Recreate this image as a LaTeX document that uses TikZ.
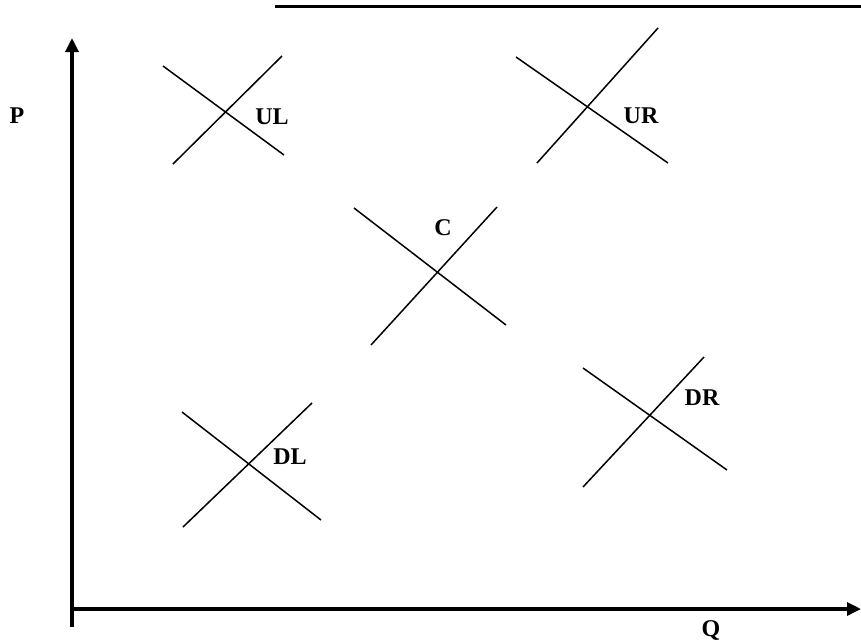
\documentclass[tikz,border=0pt]{standalone}
\usepackage{fontspec}
\setmainfont{Liberation Serif}
\usetikzlibrary{arrows.meta}
\begin{document}
\begin{tikzpicture}[x=1pt,y=-1pt,
  axis/.style={line width=3.3pt,-{Triangle[length=14pt,width=13pt]}},
  curve/.style={line width=1.5pt},
  lbl/.style={font=\fontsize{24}{24}\selectfont\bfseries,inner sep=0pt}]
\useasboundingbox (0,0) rectangle (861,641);
% top rule
\coordinate (t1) at (275,6);
\coordinate (t2) at (861,6);
\draw[line width=3pt] (t1) -- (t2);
% axes
\coordinate (o) at (72,627);
\coordinate (ytop) at (72,38);
\coordinate (x0) at (72,609);
\coordinate (xend) at (861,609);
\draw[axis] (o) -- (ytop);
\draw[axis] (x0) -- (xend);
\node[lbl] (P) at (17,116) {P};
\node[lbl] (Q) at (711,630) {Q};
% UL
\coordinate (ula) at (163,66);\coordinate (ulb) at (284,155);
\coordinate (ulc) at (173,164);\coordinate (uld) at (282,56);
\draw[curve] (ula) -- (ulb);
\draw[curve] (ulc) -- (uld);
\node[lbl] (UL) at (272,117) {UL};
% UR
\coordinate (ura) at (516,57);\coordinate (urb) at (668,163);
\coordinate (urc) at (537,163);\coordinate (urd) at (658,28);
\draw[curve] (ura) -- (urb);
\draw[curve] (urc) -- (urd);
\node[lbl] (UR) at (641,116) {UR};
% C
\coordinate (ca) at (354,208);\coordinate (cb) at (506,325);
\coordinate (cc) at (371,345);\coordinate (cd) at (497,207);
\draw[curve] (ca) -- (cb);
\draw[curve] (cc) -- (cd);
\node[lbl] (C) at (443,228) {C};
% DL
\coordinate (dla) at (182,412);\coordinate (dlb) at (321,520);
\coordinate (dlc) at (183,527);\coordinate (dld) at (312,403);
\draw[curve] (dla) -- (dlb);
\draw[curve] (dlc) -- (dld);
\node[lbl] (DL) at (290,457) {DL};
% DR
\coordinate (dra) at (583,368);\coordinate (drb) at (727,470);
\coordinate (drc) at (583,487);\coordinate (drd) at (704,357);
\draw[curve] (dra) -- (drb);
\draw[curve] (drc) -- (drd);
\node[lbl] (DR) at (702,398) {DR};
\end{tikzpicture}
\end{document}
